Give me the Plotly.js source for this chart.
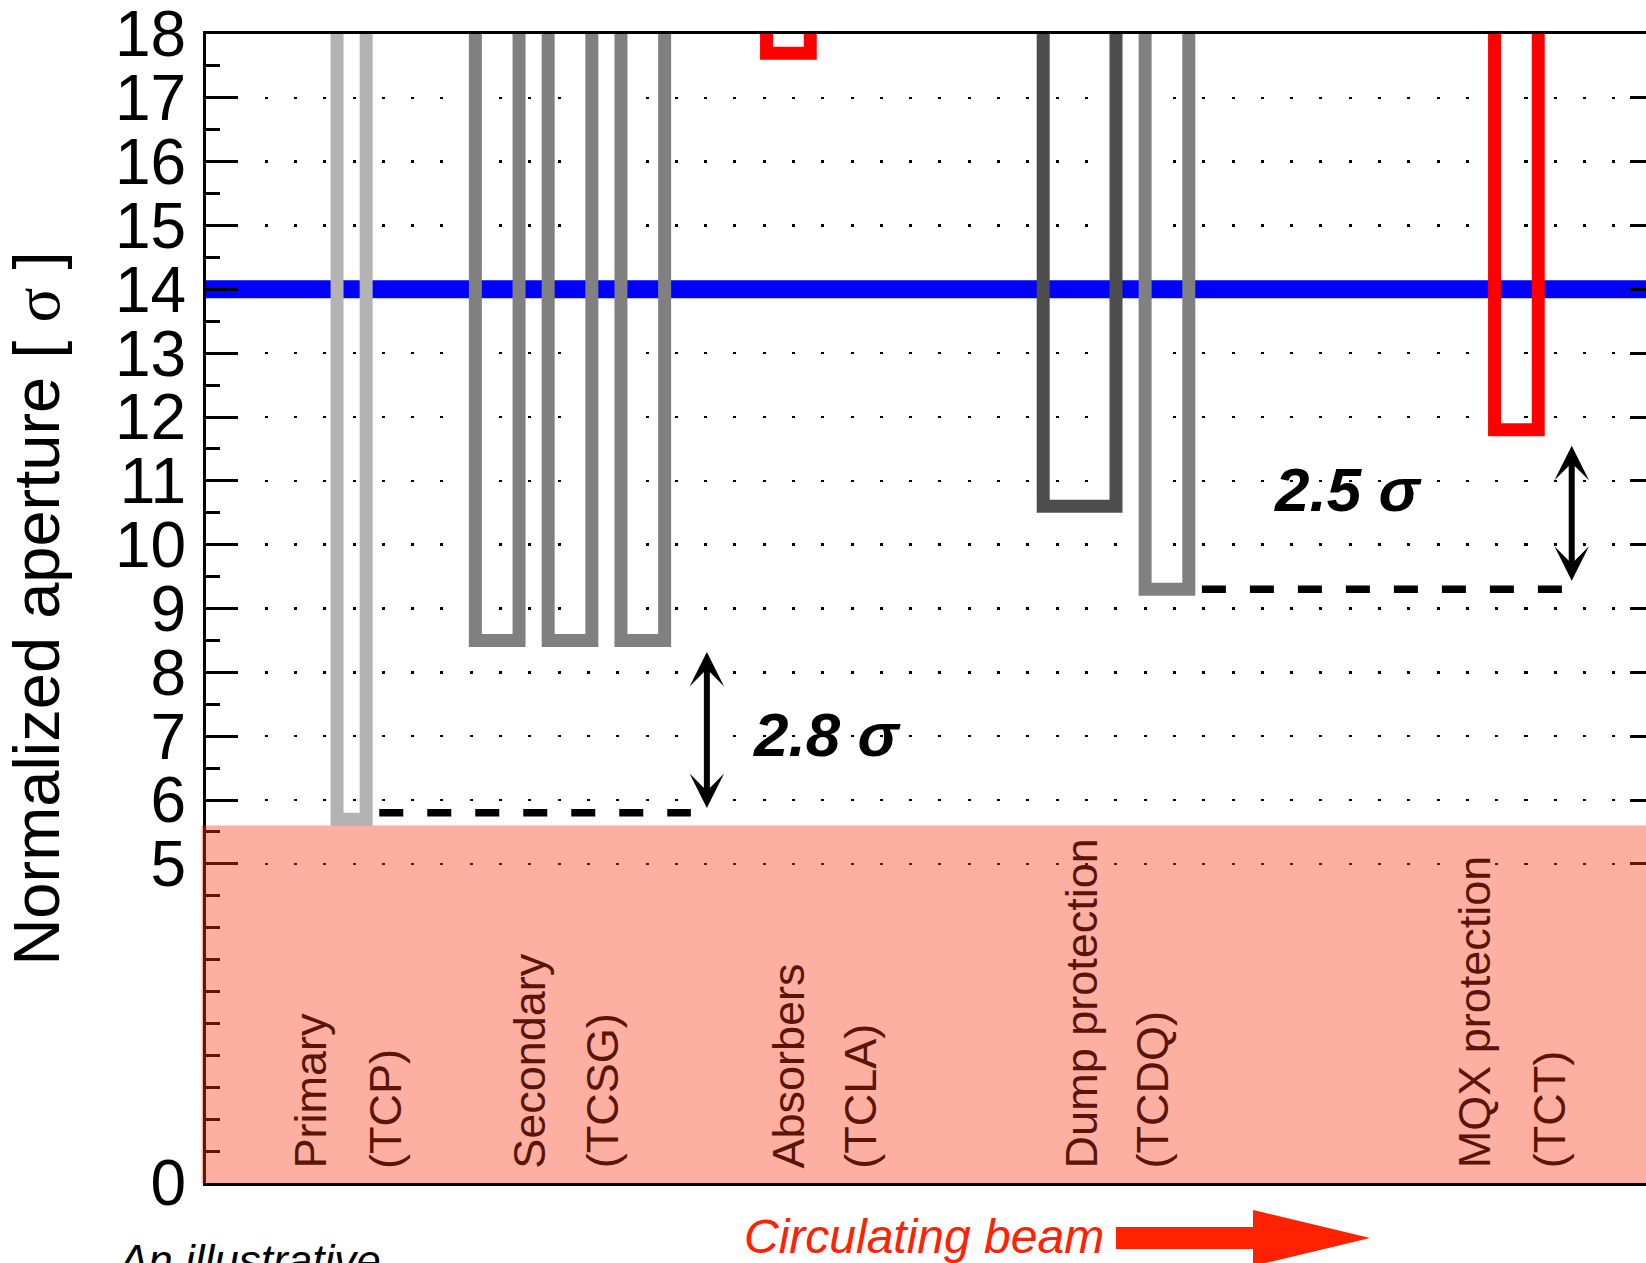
<!DOCTYPE html>
<html>
<head>
<meta charset="utf-8">
<script src="https://cdn.plot.ly/plotly-3.0.1.min.js"></script>
<style>
html, body { margin: 0; padding: 0; overflow: hidden; background: #ffffff; }
#chart { width: 1702px; height: 1263px; }
.js-line { stroke-linejoin: miter !important; stroke-linecap: butt !important; }
</style>
</head>
<body>
<div id="chart"></div>
<script>
// ---- data ----
const collimators = ['TCP', 'TCSG', 'TCSG', 'TCSG', 'TCLA', 'TCDS', 'TCDQ', 'TCT'];
const jawLeft  = [9, 18.5, 23.5, 28.5, 38.5, 57.5, 64.5, 88.5];
const jawRight = [11, 21.5, 26.5, 31.5, 41.5, 62.5, 67.5, 91.5];
const aperture = [5.7, 8.5, 8.5, 8.5, 17.7, 10.6, 9.3, 11.8];
const jawColors = ['#b3b3b3', '#808080', '#808080', '#808080', '#ff0000', '#4d4d4d', '#808080', '#ff0000'];

const beamLevel = 14;          // blue line
const dangerTop = 5.6;         // red shaded region top

const gapText   = ['2.8 σ', '2.5 σ'];
const gapLevel  = [5.8, 9.3];
const gapFrom   = [11.9, 68.4];
const gapTo     = [33.3, 93.2];
const arrowX    = [34.4, 93.8];
const arrowLow  = [5.85, 9.41];
const arrowHigh = [8.32, 11.55];
const gapLabelX = [42.65, 78.4];
const gapLabelY = [7.03, 10.87];

const catLine1 = ['Primary', 'Secondary', 'Absorbers', 'Dump protection', 'MQX protection'];
const catLine2 = ['(TCP)', '(TCSG)', '(TCLA)', '(TCDQ)', '(TCT)'];
const catX1 = [7.17, 22.2, 40.0, 60.15, 87.1];
const catX2 = [12.32, 27.2, 44.9, 65.0, 92.25];

const yTickVals = [0, 5, 6, 7, 8, 9, 10, 11, 12, 13, 14, 15, 16, 17, 18];
const yTickText = ['0', '5', '6', '7', '8', '9', '10', '11', '12', '13', '14', '15', '16', '17', '18'];
const yMinorVals = [0.5, 1, 1.5, 2, 2.5, 3, 3.5, 4, 4.5, 5.5, 6.5, 7.5, 8.5, 9.5, 10.5,
                    11.5, 12.5, 13.5, 14.5, 15.5, 16.5, 17.5];

// ---- layout geometry (pixels) ----
const W = 1702, H = 1263;
const M = { l: 206, r: 40, t: 34, b: 80 };
const PW = W - M.l - M.r, PH = H - M.t - M.b;
const px2paperX = p => (p - M.l) / PW;
const px2paperY = p => (H - M.b - p) / PH;

const FONT = 'Liberation Sans, Arial, Helvetica, sans-serif';
const TOP = 19;

const traces = [];
traces.push({
  type: 'scatter', mode: 'lines', x: [0, 100], y: [beamLevel, beamLevel],
  line: { color: '#0000ff', width: 18 }, hoverinfo: 'skip', showlegend: false
});
for (let i = 0; i < collimators.length; i++) {
  traces.push({
    type: 'scatter', mode: 'lines', name: collimators[i],
    x: [jawLeft[i], jawLeft[i], jawRight[i], jawRight[i]],
    y: [TOP, aperture[i], aperture[i], TOP],
    line: { color: jawColors[i], width: 13 }, hoverinfo: 'skip', showlegend: false
  });
}
for (let g = 0; g < gapText.length; g++) {
  traces.push({
    type: 'scatter', mode: 'lines', x: [gapFrom[g], gapTo[g]], y: [gapLevel[g], gapLevel[g]],
    line: { color: '#000000', width: 7.5, dash: '24px,24px' }, hoverinfo: 'skip', showlegend: false
  });
}

const annotations = [];
for (let g = 0; g < gapText.length; g++) {
  annotations.push({
    xref: 'x', yref: 'y', axref: 'x', ayref: 'y',
    x: arrowX[g], y: arrowHigh[g], ax: arrowX[g], ay: arrowLow[g],
    text: '', showarrow: true, arrowside: 'end+start',
    arrowhead: 3, startarrowhead: 3, arrowsize: 0.96, startarrowsize: 0.96,
    arrowwidth: 6, arrowcolor: '#000000', standoff: 0, startstandoff: 0
  });
  annotations.push({
    xref: 'x', yref: 'y', x: gapLabelX[g], y: gapLabelY[g],
    text: '<b><i>' + gapText[g] + '</i></b>', showarrow: false,
    xanchor: 'center', yanchor: 'middle', borderpad: 0,
    font: { family: FONT, size: 62, color: '#000000' }
  });
}
const labelBottom = 0.21;
for (let c = 0; c < catLine1.length; c++) {
  [[catLine1[c], catX1[c]], [catLine2[c], catX2[c]]].forEach(([t, xv]) => {
    annotations.push({
      xref: 'x', yref: 'y', x: xv, y: labelBottom, text: t, textangle: -90,
      showarrow: false, xanchor: 'center', yanchor: 'bottom', borderpad: 0,
      font: { family: FONT, size: 45, color: '#5a1408' }
    });
  });
}
annotations.push({
  xref: 'paper', yref: 'paper', x: px2paperX(924), y: px2paperY(1236),
  text: '<i>Circulating beam</i>', showarrow: false, xanchor: 'center', yanchor: 'middle',
  borderpad: 0, font: { family: FONT, size: 48, color: '#ff2200' }
});
annotations.push({
  xref: 'paper', yref: 'paper', x: px2paperX(115), y: px2paperY(1235),
  text: '<i>An illustrative</i>', showarrow: false, xanchor: 'left', yanchor: 'top',
  borderpad: 0, font: { family: FONT, size: 44, color: '#000000' }
});

// big red beam-direction arrow (paper coordinates from pixel geometry)
const arr = { x0: 1116, xb: 1253, xt: 1370, yc: 1238, shaft: 11, head: 28 };
const P = (x, y) => px2paperX(x).toFixed(5) + ',' + px2paperY(y).toFixed(5);
const arrowPath = 'M' + P(arr.x0, arr.yc - arr.shaft) + 'L' + P(arr.xb, arr.yc - arr.shaft) +
  'L' + P(arr.xb, arr.yc - arr.head) + 'L' + P(arr.xt, arr.yc) + 'L' + P(arr.xb, arr.yc + arr.head) +
  'L' + P(arr.xb, arr.yc + arr.shaft) + 'L' + P(arr.x0, arr.yc + arr.shaft) + 'Z';

const shapes = [
  { type: 'rect', xref: 'paper', yref: 'y', x0: -0.003, x1: 1.01, y0: -0.03, y1: dangerTop,
    fillcolor: 'rgba(250,55,20,0.4)', line: { width: 0 }, layer: 'above' },
  { type: 'path', xref: 'paper', yref: 'paper', path: arrowPath,
    fillcolor: '#ff2200', line: { width: 0 }, layer: 'above' }
];

const layout = {
  width: W, height: H, margin: { l: M.l, r: M.r, t: M.t, b: M.b, pad: 0 },
  paper_bgcolor: '#ffffff', plot_bgcolor: '#ffffff', showlegend: false,
  font: { family: FONT, color: '#000000' },
  xaxis: {
    range: [0, 100], showline: true, mirror: true, linecolor: '#000000', linewidth: 3,
    showgrid: false, zeroline: false, ticks: '', showticklabels: false, fixedrange: true
  },
  yaxis: {
    range: [0, 18], tickmode: 'array', tickvals: yTickVals, ticktext: yTickText,
    ticks: 'inside', ticklen: 32, tickwidth: 3, tickcolor: '#000000',
    showline: true, mirror: 'ticks', linecolor: '#000000', linewidth: 3,
    showgrid: true, gridcolor: '#000000', gridwidth: 2.5, griddash: '3px,26.3px',
    zeroline: false, ticklabelstandoff: 4, ticklabeloverflow: 'allow',
    tickfont: { family: FONT, size: 64, color: '#000000' },
    minor: { tickmode: 'array', tickvals: yMinorVals, ticks: 'inside', ticklen: 14,
             tickwidth: 3, tickcolor: '#000000', showgrid: false },
    title: { text: 'Normalized aperture [ <span style="font-family:Liberation Serif">σ</span> ]',
             font: { family: FONT, size: 65, color: '#000000' }, standoff: 42 },
    fixedrange: true
  },
  shapes: shapes,
  annotations: annotations
};

Plotly.newPlot('chart', traces, layout, { staticPlot: true, displayModeBar: false });
</script>
</body>
</html>
